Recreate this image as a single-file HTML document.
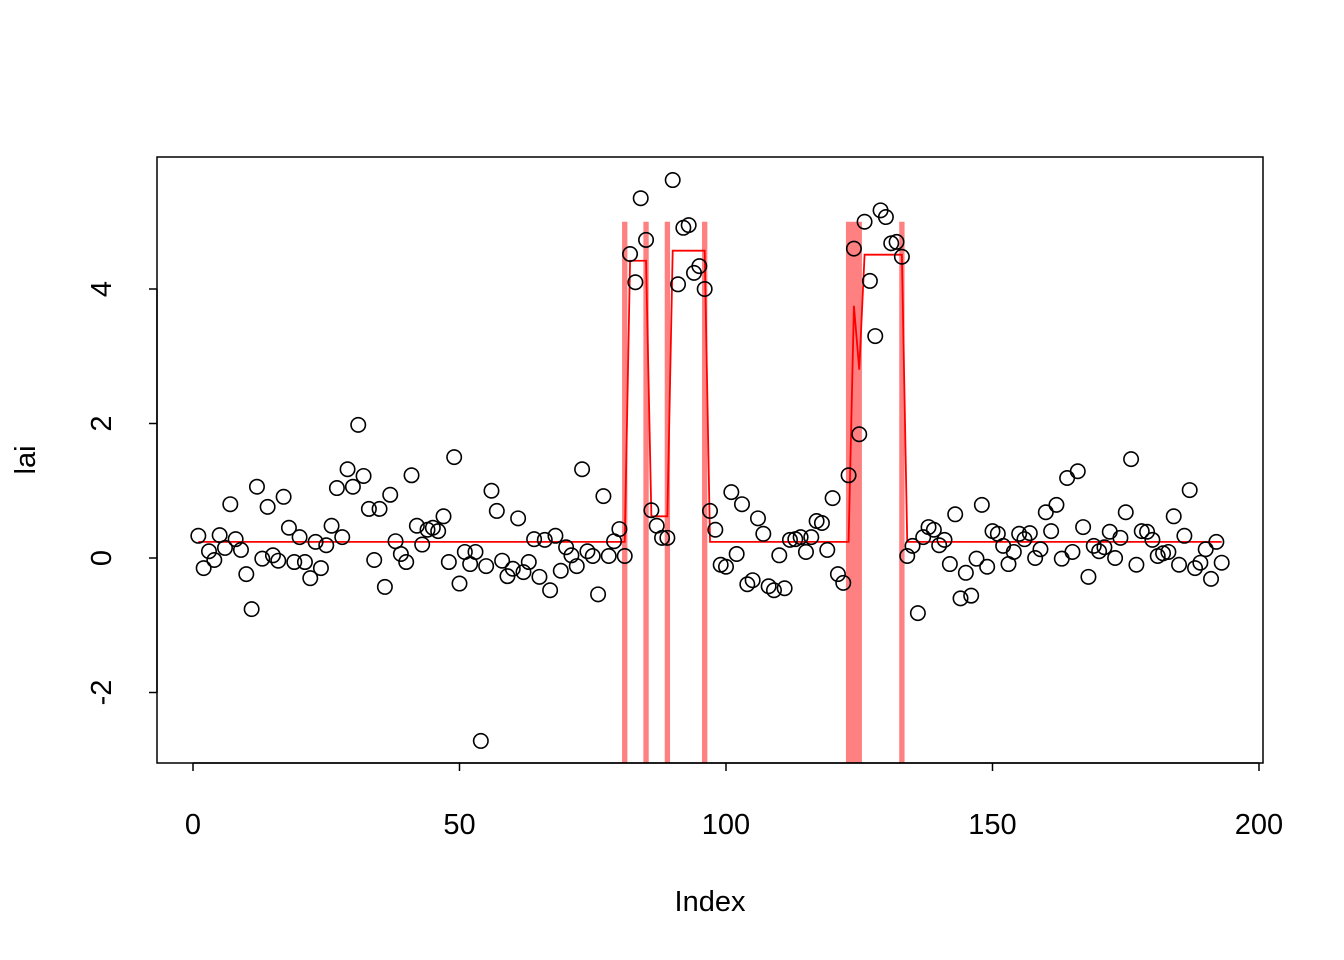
<!DOCTYPE html>
<html><head><meta charset="utf-8"><style>
html,body{margin:0;padding:0;background:#fff;}
svg{display:block;font-family:"Liberation Sans",Arial,sans-serif;}
</style></head>
<body>
<svg id="chart" width="1344" height="960" xmlns="http://www.w3.org/2000/svg">
<g id="bands"></g>
<g id="axes"></g>
<g id="fit"></g>
<g id="pts"></g>
<text x="710" y="911" text-anchor="middle" font-size="29">Index</text>
<text transform="translate(35,460) rotate(-90)" text-anchor="middle" font-size="29">lai</text>
</svg>
<script>
const values = [0.33,-0.15,0.1,-0.03,0.34,0.15,0.8,0.28,0.12,-0.24,-0.76,1.06,-0.01,0.76,0.04,-0.04,0.91,0.45,-0.06,0.31,-0.06,-0.3,0.24,-0.15,0.19,0.48,1.04,0.31,1.32,1.06,1.98,1.22,0.73,-0.03,0.73,-0.43,0.94,0.25,0.06,-0.06,1.23,0.48,0.2,0.42,0.45,0.4,0.62,-0.06,1.5,-0.38,0.09,-0.09,0.09,-2.72,-0.12,1.0,0.7,-0.04,-0.27,-0.16,0.59,-0.21,-0.06,0.28,-0.28,0.27,-0.48,0.33,-0.19,0.16,0.04,-0.12,1.32,0.1,0.03,-0.54,0.92,0.03,0.25,0.43,0.03,4.52,4.1,5.35,4.73,0.71,0.48,0.3,0.3,5.62,4.07,4.91,4.95,4.24,4.34,4.0,0.7,0.42,-0.1,-0.13,0.98,0.06,0.8,-0.39,-0.33,0.59,0.36,-0.42,-0.48,0.04,-0.45,0.27,0.28,0.31,0.09,0.31,0.55,0.52,0.12,0.89,-0.24,-0.37,1.23,4.6,1.84,5.0,4.12,3.3,5.17,5.07,4.68,4.7,4.48,0.03,0.18,-0.82,0.31,0.46,0.42,0.19,0.27,-0.09,0.65,-0.6,-0.22,-0.56,-0.01,0.79,-0.13,0.4,0.36,0.18,-0.09,0.09,0.36,0.28,0.37,0.0,0.13,0.68,0.4,0.79,-0.01,1.19,0.09,1.29,0.46,-0.28,0.18,0.1,0.16,0.39,0.0,0.3,0.68,1.47,-0.1,0.4,0.39,0.27,0.03,0.07,0.09,0.62,-0.1,0.33,1.01,-0.15,-0.07,0.13,-0.31,0.24,-0.07];
const fitLevels = [0.24,4.42,0.62,4.57,0.24,3.75,2.8,4.51,0.24];
const fitStarts = [1,82,86,90,97,124,125,126,134];
const bandStart = [80.5,84.5,88.5,95.5,122.5,132.5];
const bandEnd = [81.5,85.5,89.5,96.5,125.5,133.5];
const bandTop = 5;
const xTicks = [0,50,100,150,200];
const yTicks = [-2,0,2,4];

const NS="http://www.w3.org/2000/svg";
const X = v => 193 + v*(1259-193)/200;
const Y = v => 558 - v*67.25;
const PL=157, PR=1263, PT=157, PB=763;
function mk(tag, attrs, parent){const e=document.createElementNS(NS,tag);for(const k in attrs)e.setAttribute(k,attrs[k]);parent.appendChild(e);return e;}

const bands=document.getElementById('bands');
bandStart.forEach((s,i)=>{
  const r=mk('rect',{x:X(s),y:Y(bandTop),width:X(bandEnd[i])-X(s),height:PB-Y(bandTop),fill:'#ff8080'},bands);
  
  
});

const axes=document.getElementById('axes');
const box=mk('rect',{x:PL,y:PT,width:PR-PL,height:PB-PT,fill:'none',stroke:'#000','stroke-width':1.5},axes);


mk('line',{x1:X(xTicks[0]),x2:X(xTicks[xTicks.length-1]),y1:PB,y2:PB,stroke:'#000','stroke-width':1.5},axes);
xTicks.forEach(t=>{
  mk('line',{x1:X(t),x2:X(t),y1:PB,y2:PB+8,stroke:'#000','stroke-width':1.5},axes);
  const tx=mk('text',{x:X(t),y:834,'text-anchor':'middle','font-size':29},axes);
  tx.textContent=t;
  
  
});
mk('line',{x1:PL,x2:PL,y1:Y(yTicks[0]),y2:Y(yTicks[yTicks.length-1]),stroke:'#000','stroke-width':1.5},axes);
yTicks.forEach(t=>{
  mk('line',{x1:PL-8,x2:PL,y1:Y(t),y2:Y(t),stroke:'#000','stroke-width':1.5},axes);
  const tx=mk('text',{transform:`translate(111,${Y(t)}) rotate(-90)`,'text-anchor':'middle','font-size':29},axes);
  tx.textContent=t;
  
  
});

// fitted line
const fitG=document.getElementById('fit');
let pts=[];
for(let i=1;i<=values.length;i++){
  let lvl=fitLevels[0];
  for(let k=0;k<fitStarts.length;k++) if(i>=fitStarts[k]) lvl=fitLevels[k];
  pts.push(X(i)+','+Y(lvl));
}
const pl=mk('polyline',{points:pts.join(' '),fill:'none',stroke:'#ff0000','stroke-width':1.8},fitG);



const pg=document.getElementById('pts');
values.forEach((v,i)=>{
  const c=mk('circle',{cx:X(i+1),cy:Y(v),r:7.2,fill:'none',stroke:'#000','stroke-width':1.6},pg);
  
  
});
</script>
</body></html>
